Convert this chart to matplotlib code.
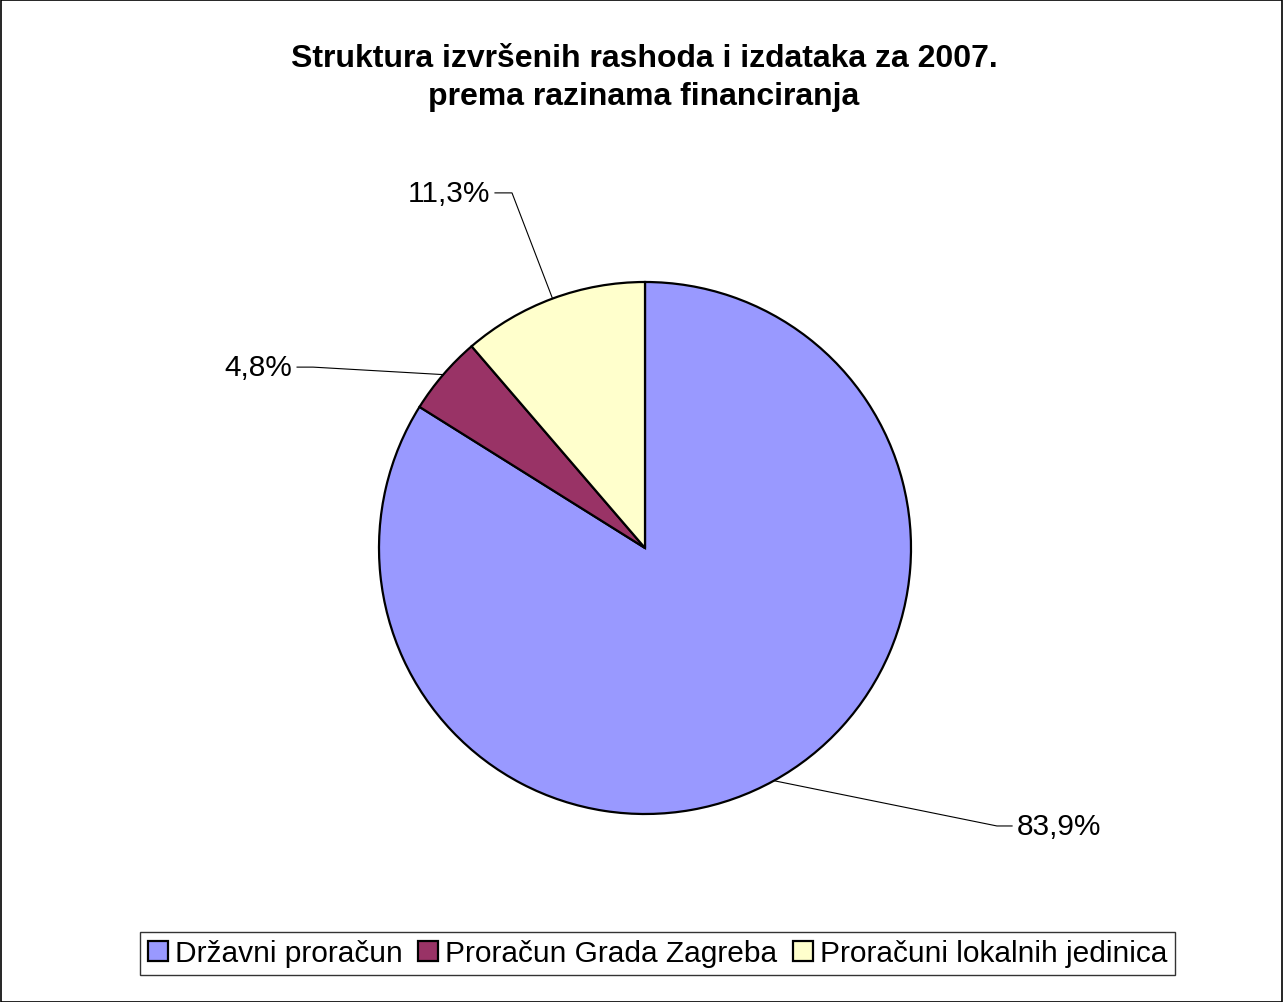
import numpy as np
import matplotlib.pyplot as plt
from matplotlib.patches import Rectangle

plt.rcParams['font.family'] = ['Liberation Sans', 'DejaVu Sans']

categories = ["Državni proračun", "Proračun Grada Zagreba", "Proračuni lokalnih jedinica"]
shares = [83.9, 4.8, 11.3]
pct_labels = ["83,9%", "4,8%", "11,3%"]
colors = ["#9999FF", "#993366", "#FFFFCC"]

# leader elbow / text positions, in pie-radius units
elbows = [(1.323, -1.045), (-1.248, 0.680), (-0.500, 1.335)]
stub_dx = [0.057, -0.060, -0.064]

W, H = 1283, 1003
fig = plt.figure(figsize=(W / 100, H / 100), dpi=100)
fig.patches.append(Rectangle((0.5 / W, 0.5 / H), 1 - 1.5 / W, 1 - 1.5 / H, transform=fig.transFigure,
                             fill=False, edgecolor="black", linewidth=1.2))

cx, cy, r = 645, 549, 266
half = 300
ax = fig.add_axes([(cx - half) / W, (H - cy - half) / H, 2 * half / W, 2 * half / H])
lim = half / r

wedges, _ = ax.pie(shares, colors=colors, startangle=90, counterclock=False, radius=1,
                   wedgeprops=dict(edgecolor="black", linewidth=1.6), frame=True)
ax.set_xlim(-lim, lim)
ax.set_ylim(-lim, lim)
ax.axis("off")

for w, lab, (ex, ey), dx in zip(wedges, pct_labels, elbows, stub_dx):
    mid = np.deg2rad((w.theta1 + w.theta2) / 2)
    px, py = np.cos(mid), np.sin(mid)
    ax.plot([px, ex, ex + dx], [py, ey, ey], color="black", linewidth=0.8, clip_on=False)
    ha = "left" if dx > 0 else "right"
    tx = ex + dx + (0.018 if dx > 0 else -0.018)
    ax.text(tx, ey, lab, ha=ha, va="center", fontsize=21.5, clip_on=False)

fig.text(644 / W, 1 - 78 / H, "Struktura izvršenih rashoda i izdataka za 2007.\nprema razinama financiranja",
         ha="center", va="center", fontsize=23, fontweight="bold", linespacing=1.35)

leg = fig.legend(wedges, categories, loc="center", bbox_to_anchor=(657.5 / W, 1 - 954.5 / H),
                 ncol=3, fontsize=21.5, frameon=True, fancybox=False, handlelength=0.67, handleheight=0.67,
                 handletextpad=0.23, columnspacing=0.53, borderpad=0.25, borderaxespad=0)
leg.get_frame().set_edgecolor("black")
leg.get_frame().set_linewidth(1.0)

fig.savefig("out.png", dpi=100)
